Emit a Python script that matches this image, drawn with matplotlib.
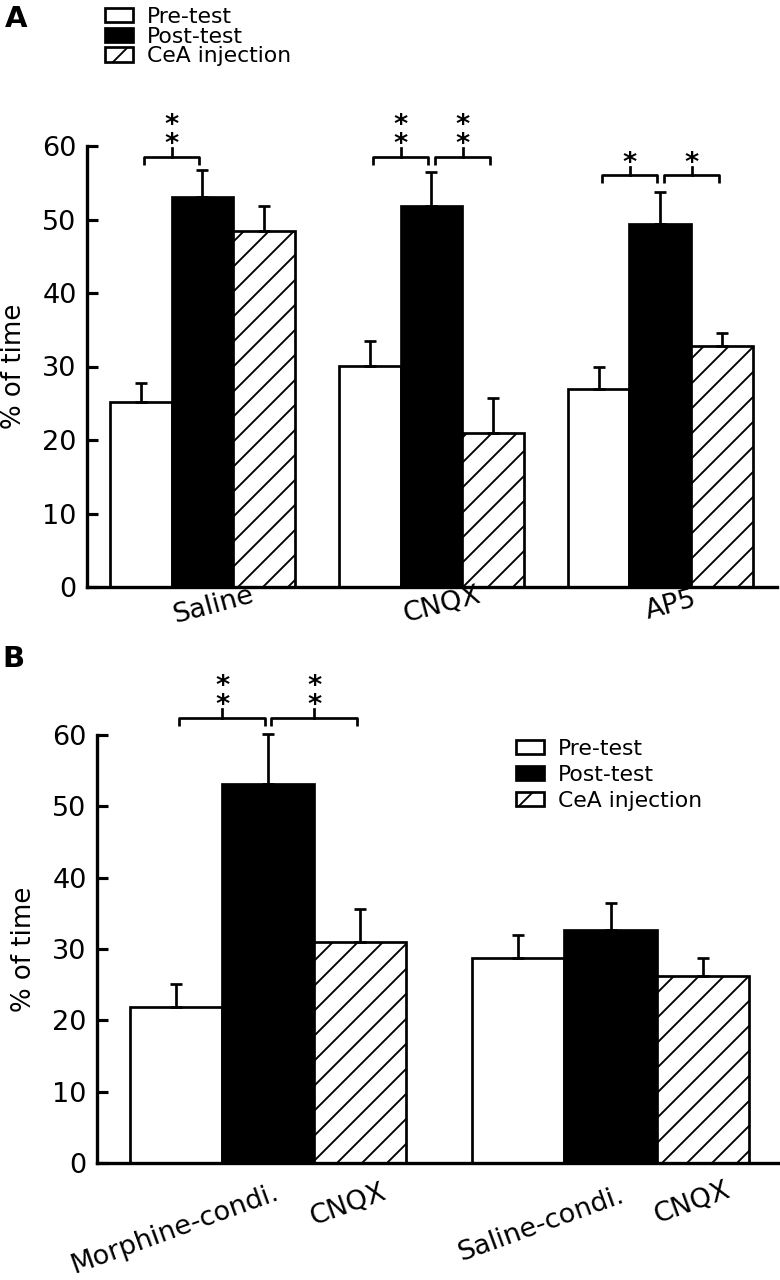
import matplotlib
matplotlib.use('Agg')
import matplotlib.pyplot as plt
import matplotlib.transforms as mtransforms
import numpy as np

plt.rcParams['font.family'] = ['DejaVu Sans']
plt.rcParams['hatch.linewidth'] = 0.9

series = ['Pre-test', 'Post-test', 'CeA injection']

# ---- Panel A data ----
groups_a = ['Saline', 'CNQX', 'AP5']
pre_a = [25.2, 30.1, 27.0]
post_a = [53.0, 51.9, 49.4]
cea_a = [48.5, 20.9, 32.8]
pre_a_err = [2.6, 3.4, 2.9]
post_a_err = [3.7, 4.6, 4.3]
cea_a_err = [3.4, 4.8, 1.7]

# ---- Panel B data ----
groups_b = ['Morphine-condi.', 'Saline-condi.']
labels_b = ['Morphine-condi.', 'CNQX', 'Saline-condi.', 'CNQX']
pre_b = [21.8, 28.8]
post_b = [53.2, 32.7]
cea_b = [31.0, 26.2]
pre_b_err = [3.3, 3.2]
post_b_err = [7.0, 3.8]
cea_b_err = [4.6, 2.5]

# significance brackets: (group index, bar i, bar j, stars, bracket height)
sig_a = [(0, 0, 1, '**', 58.5), (1, 0, 1, '**', 58.5), (1, 1, 2, '**', 58.5),
         (2, 0, 1, '*', 56.0), (2, 1, 2, '*', 56.0)]
sig_b = [(0, 0, 1, '**', 62.4), (0, 1, 2, '**', 62.4)]

yticks = [0, 10, 20, 30, 40, 50, 60]

facecolors = ['white', 'black', 'white']
hatches = [None, None, '//']

W, H = 780, 1280
DPI = 150
fig = plt.figure(figsize=(W / DPI, H / DPI), dpi=DPI)

ax_a = fig.add_axes([87 / W, 1 - 587 / H, 690 / W, 441 / H])
ax_b = fig.add_axes([97 / W, 1 - 1163 / H, 681 / W, 428 / H])

LW = 1.3
FS = 13


def draw_panel(ax, vals, errs, offset, spacing, xmax):
    n = len(vals[0])
    centers = []
    for k in range(3):
        x = offset + np.arange(n) * spacing + k + 0.5
        centers.append(x)
        ax.bar(x, vals[k], width=1.0, color=facecolors[k], edgecolor='black',
               linewidth=LW, hatch=hatches[k], label=series[k], zorder=2)
        eb = ax.errorbar(x, vals[k], yerr=[np.zeros(n), errs[k]], fmt='none',
                         ecolor='black', elinewidth=LW, capsize=2.8,
                         capthick=LW, zorder=3)
        for art in eb.lines[1] + eb.lines[2]:
            art.set_clip_on(False)
    ax.set_xlim(0, xmax)
    ax.set_ylim(0, 60)
    ax.set_yticks(yticks)
    ax.set_xticks([])
    for s in ['top', 'right']:
        ax.spines[s].set_visible(False)
    ax.spines['left'].set_linewidth(1.6)
    ax.spines['bottom'].set_linewidth(1.6)
    ax.spines['left'].set_bounds(0, 60)
    ax.tick_params(axis='y', direction='in', length=5.5, width=1.5,
                   labelsize=FS, pad=5)
    ax.set_ylabel('% of time', fontsize=12.5)
    return centers


def bracket(ax, x1, x2, y, stars, drop=1.1, rise=1.2):
    ax.plot([x1, x1, x2, x2], [y - drop, y, y, y - drop], color='black',
            lw=LW, clip_on=False, solid_capstyle='butt')
    xm = (x1 + x2) / 2
    ax.plot([xm, xm], [y, y + rise], color='black', lw=LW, clip_on=False)
    ax.annotate('\n'.join(stars), xy=(xm, y + rise), xytext=(0, -2.0),
                textcoords='offset points', ha='center', va='baseline',
                fontsize=13, fontweight='bold', linespacing=0.68,
                multialignment='center', annotation_clip=False)


# Panel A
cent_a = draw_panel(ax_a, [pre_a, post_a, cea_a], [pre_a_err, post_a_err, cea_a_err],
                    0.37, 3.71, 11.18)
ax_a.yaxis.set_label_coords(-0.087, 0.5)
for g, i, j, st, h in sig_a:
    bracket(ax_a, cent_a[i][g] + 0.06, cent_a[j][g] - 0.05, h, st)
trans_a = mtransforms.blended_transform_factory(ax_a.transData, ax_a.transAxes)
for g, name in enumerate(groups_a):
    ax_a.text(cent_a[1][g] + 0.18, -0.042, name, transform=trans_a, ha='center',
              va='center', rotation=15, rotation_mode='anchor', fontsize=FS)

# Panel B
cent_b = draw_panel(ax_b, [pre_b, post_b, cea_b], [pre_b_err, post_b_err, cea_b_err],
                    0.36, 3.72, 7.40)
ax_b.yaxis.set_label_coords(-0.088, 0.5)
for g, i, j, st, h in sig_b:
    bracket(ax_b, cent_b[i][g] + 0.03, cent_b[j][g] - 0.03, h, st)
trans_b = mtransforms.blended_transform_factory(ax_b.transData, ax_b.transAxes)
label_pos_b = [(cent_b[0][0] - 0.01, -0.156), (cent_b[2][0] - 0.13, -0.098),
               (cent_b[0][1] + 0.24, -0.143), (cent_b[2][1] - 0.11, -0.093)]
for (x, y), name in zip(label_pos_b, labels_b):
    ax_b.text(x, y, name, transform=trans_b, ha='center', va='center',
              rotation=20, rotation_mode='anchor', fontsize=FS)

# Legends
leg_kw = dict(frameon=False, fontsize=10.5, handlelength=1.3, handleheight=0.62,
              handletextpad=0.6, borderpad=0, borderaxespad=0)
handles, labs = ax_a.get_legend_handles_labels()
fig.legend(handles, labs, loc='upper left', bbox_to_anchor=(105 / W, 1 - 7 / H),
           labelspacing=-0.02, **leg_kw)
handles_b, labs_b = ax_b.get_legend_handles_labels()
fig.legend(handles_b, labs_b, loc='upper left', bbox_to_anchor=(516 / W, 1 - 739 / H),
           labelspacing=0.27, **leg_kw)

fig.text(5 / W, 1 - 5 / H, 'A', fontsize=14, fontweight='bold', va='top', ha='left')
fig.text(2 / W, 1 - 645 / H, 'B', fontsize=14, fontweight='bold', va='top', ha='left')

fig.savefig('out.png', dpi=DPI)
